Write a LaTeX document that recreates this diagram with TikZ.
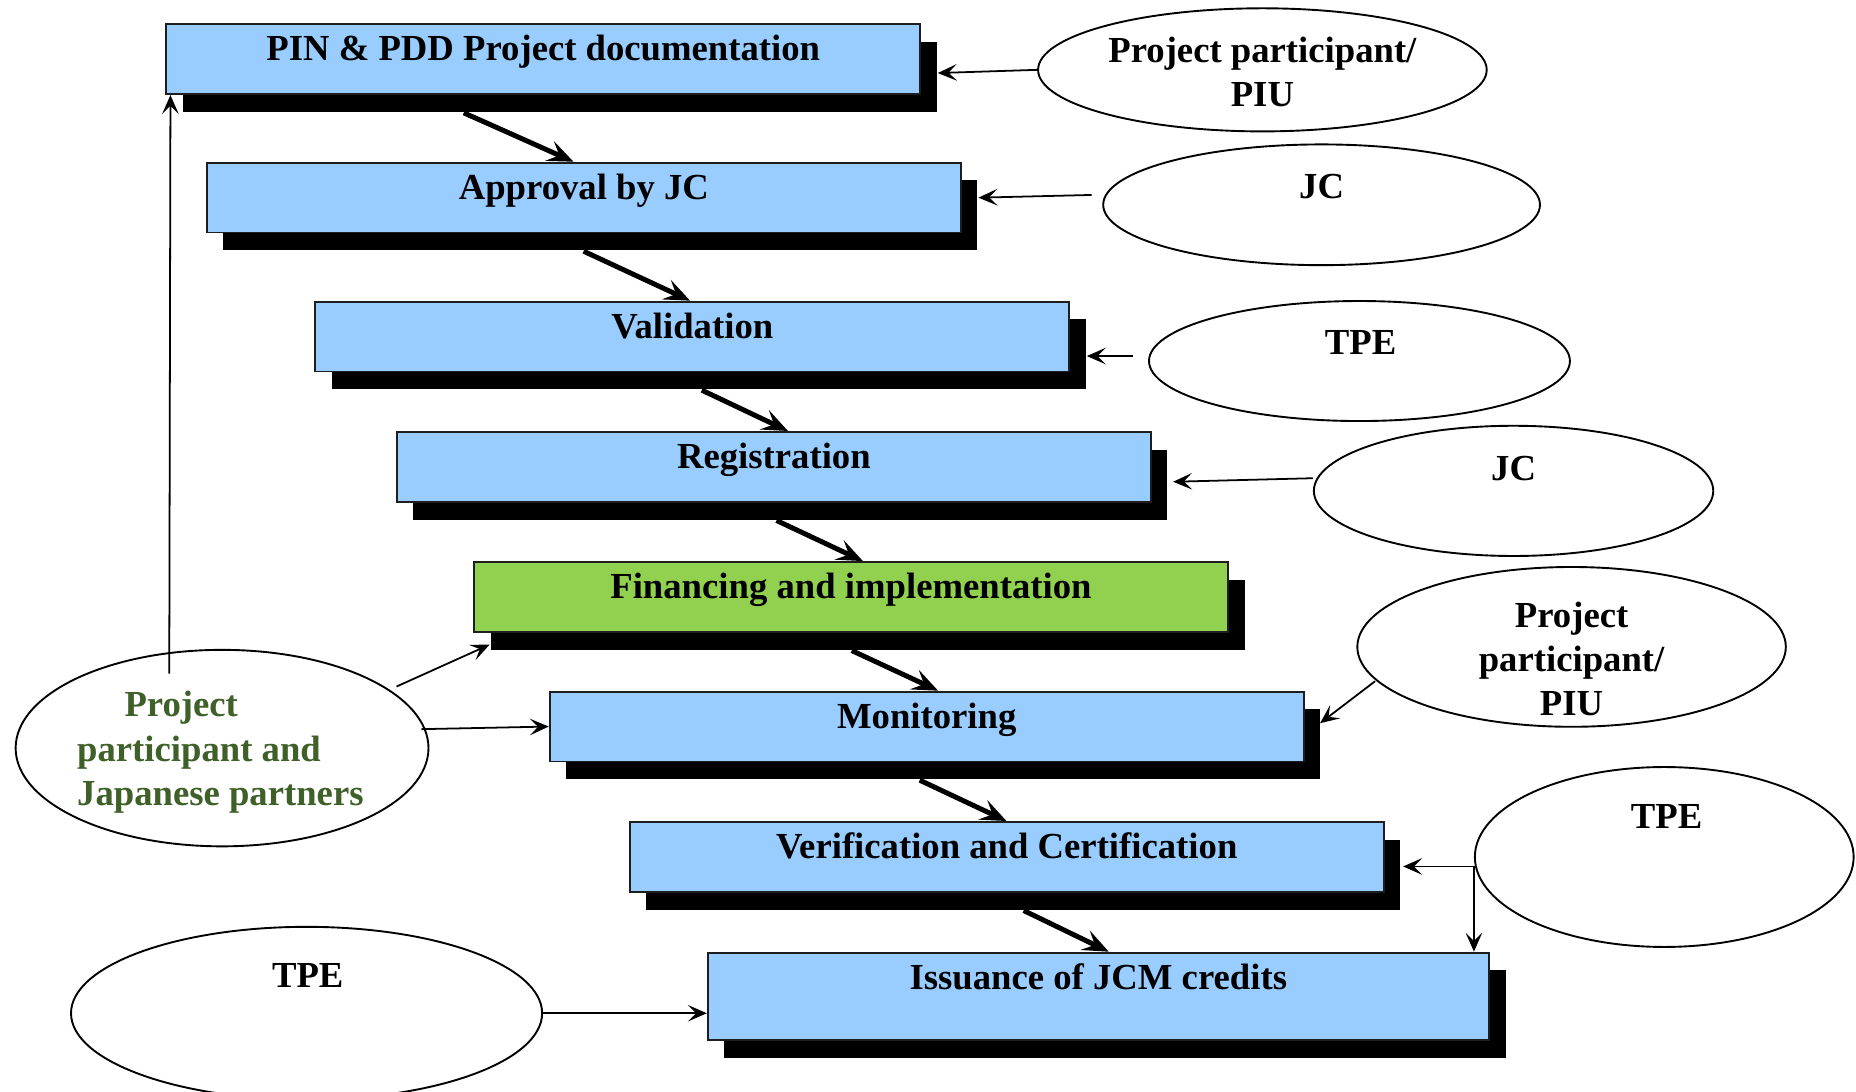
\documentclass[tikz,border=0pt]{standalone}
\usepackage{fontspec}
\setmainfont{Liberation Serif}
\usetikzlibrary{shapes.geometric,arrows.meta,calc,shadows}

\definecolor{boxblue}{RGB}{153,204,255}
\definecolor{boxgreen}{RGB}{146,208,80}
\definecolor{olivetext}{RGB}{63,96,40}
\definecolor{edgegray}{RGB}{30,30,30}

\tikzset{
  bigtext/.style={font=\fontsize{31}{37.5}\selectfont\bfseries},
  stepbox/.style={bigtext, draw=edgegray, line width=1.6pt, fill=boxblue,
    anchor=north west, inner sep=0pt, minimum width=637pt,
    text height=31pt, text depth=28pt,
    drop shadow={shadow xshift=14pt, shadow yshift=-15pt, fill=black, opacity=1}},
  greenbox/.style={stepbox, fill=boxgreen},
  actor/.style={ellipse, draw=black, line width=1.6pt, fill=white, inner sep=0pt},
  actortext/.style={bigtext, align=center, inner sep=0pt, anchor=base},
  flowarr/.style={line width=4.2pt, -{Stealth[length=22pt,width=18pt,inset=9pt]}},
  thinarr/.style={line width=1.5pt, -{Stealth[length=16pt,width=14pt,inset=7pt]}},
}

\begin{document}
\begin{tikzpicture}[x=1pt,y=-1pt]
\useasboundingbox[fill=white] (0,0) rectangle (1568,922);

% process steps
\node[stepbox]  (b1) at (139.7,19.7) {PIN \& PDD Project documentation};
\node[stepbox]  (b2) at (174.0,136.6) {Approval by JC};
\node[stepbox]  (b3) at (265.6,254.0) {Validation};
\node[stepbox]  (b4) at (334.5,364.1) {Registration};
\node[greenbox] (b5) at (399.6,474.0) {Financing and implementation};
\node[stepbox]  (b6) at (463.6,583.5) {Monitoring};
\node[stepbox]  (b7) at (531.2,693.6) {Verification and Certification};
\node[stepbox, minimum width=660pt, text depth=43pt] (b8) at (597.1,804.0) {Issuance of JCM credits};

% flow between steps
\draw[flowarr] ($(b1.south west)+(252.1,15)$) -- ($(b2.north west)+(310.5,0)$);
\draw[flowarr] ($(b2.south west)+(319.0,15)$) -- ($(b3.north west)+(317.4,0)$);
\draw[flowarr] ($(b3.south west)+(327.3,15)$) -- ($(b4.north west)+(331.2,0)$);
\draw[flowarr] ($(b4.south west)+(321.5,15)$) -- ($(b5.north west)+(329.4,0)$);
\draw[flowarr] ($(b5.south west)+(320.0,15)$) -- ($(b6.north west)+(328.9,0)$);
\draw[flowarr] ($(b6.south west)+(313.4,15)$) -- ($(b7.north west)+(319.1,0)$);
\draw[flowarr] ($(b7.south west)+(333.6,15)$) -- ($(b8.north west)+(339.6,0)$);

% actors
\node[actor, minimum width=379pt, minimum height=104pt] (e1) at (1066.5,59.0) {};
\node[actor, minimum width=369pt, minimum height=102pt] (e2) at (1116.5,173.0) {};
\node[actor, minimum width=355.6pt, minimum height=101.4pt] (e3) at (1148.5,305.0) {};
\node[actor, minimum width=337.4pt, minimum height=110pt] (e4) at (1278.7,414.7) {};
\node[actor, minimum width=362pt, minimum height=135pt] (e5) at (1327.7,546.5) {};
\node[actor, minimum width=320pt, minimum height=152pt] (e6) at (1406.0,724.0) {};
\node[actor, minimum width=348.8pt, minimum height=166pt] (e7) at (187.6,632.0) {};
\node[actor, minimum width=398pt, minimum height=146pt] (e8) at (259.0,856.0) {};

% actor names (base anchor of a multi-line text is its last line)
\node[actortext] (t1) at ($(e1.north)+(0,84)$) {Project participant/\\PIU};
\node[actortext] (t2) at ($(e2.north)+(0,46.5)$) {JC};
\node[actortext] (t3) at ($(e3.north)+(1,46.2)$) {TPE};
\node[actortext] (t4) at ($(e4.north)+(0,47.3)$) {JC};
\node[actortext] (t5) at ($(e5.north)+(0,126.5)$) {Project\\participant/\\PIU};
\node[actortext] (t6) at ($(e6.north)+(2,53)$) {TPE};
\node[actortext] (t8) at ($(e8.north)+(1,52.3)$) {TPE};
\node[bigtext, text=olivetext, align=left, inner sep=0pt, anchor=base west] (t7)
  at (65,680.5) {\hspace*{40pt}Project\\participant and\\Japanese partners};

% actor connections
\draw[thinarr] (e1.west) -- ($(b1.north east)+(14,42)$);
\draw[thinarr] ($(e2.west)+(-9,-8.3)$) -- ($(b2.north east)+(14,30.4)$);
\draw[thinarr] ($(e3.west)+(-13,-4.2)$) -- ($(b3.north east)+(14,46.8)$);
\draw[thinarr] ($(e4.west)+(0,-10.7)$) -- ($(b4.north east)+(18,42.9)$);
\draw[thinarr] ($(e5.center)+(-166,29)$) -- ($(b6.north east)+(13,27.5)$);
\coordinate (tpesplit) at ($(e6.west)+(0,8)$);
\draw[thinarr] (tpesplit) -- ($(b7.north east)+(15.6,38.4)$);
\draw[thinarr] (tpesplit) -- (tpesplit |- b8.north);
\draw[thinarr] ($(e7.center)+(-44.6,-63)$) -- ($(b1.south west)+(4.3,0)$);
\draw[thinarr] ($(e7.center)+(147.4,-52)$) -- ($(b5.south west)+(14,10)$);
\draw[thinarr] ($(e7.center)+(168.4,-16)$) -- (b6.west);
\draw[thinarr] (e8.east) -- (e8.east -| b8.west);
\end{tikzpicture}
\end{document}
